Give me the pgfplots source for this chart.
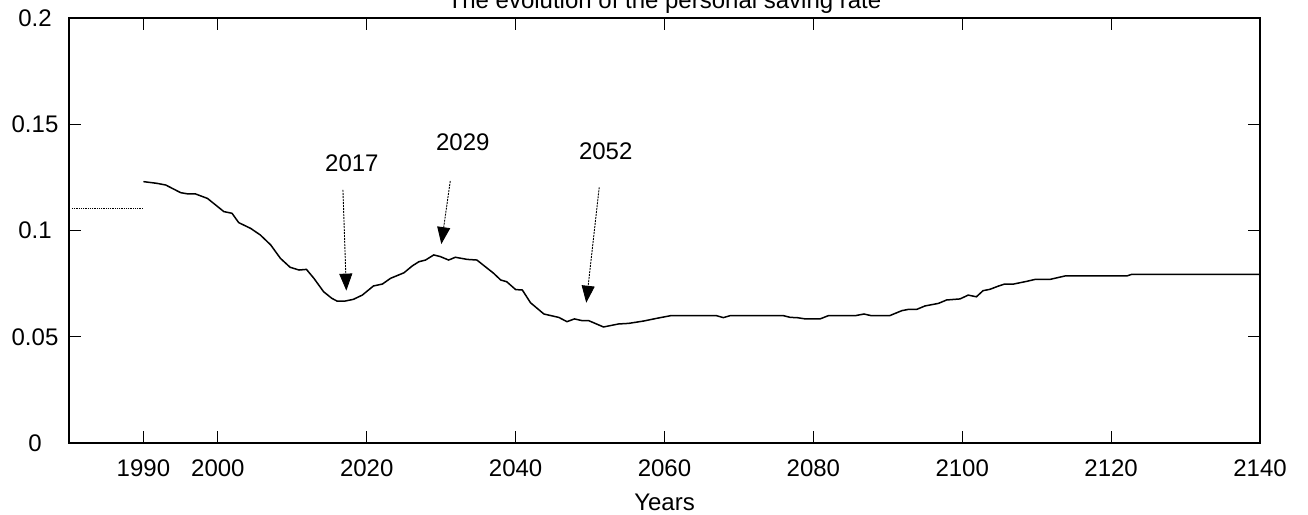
\documentclass[border=0pt]{standalone}
\usepackage{pgfplots}
\pgfplotsset{compat=1.18}
\usepackage{fontspec}
\setmainfont{Liberation Sans}
\usetikzlibrary{arrows.meta}

\newcommand{\lbl}{\fontsize{24}{28}\selectfont}

\begin{document}
\begin{tikzpicture}
\begin{axis}[
  at={(0pt,0pt)}, anchor=south west,
  scale only axis, width=1191pt, height=425pt,
  xmin=1980, xmax=2140, ymin=0, ymax=0.2,
  xtick={1990,2000,2020,2040,2060,2080,2100,2120,2140},
  xticklabels={1990,2000,2020,2040,2060,2080,2100,2120,2140},
  ytick={0,0.05,0.1,0.15,0.2},
  yticklabels={0,0.05,0.1,0.15,0.2},
  tick align=inside, major tick length=12pt,
  xtick pos=both, ytick pos=both,
  axis line style={line width=1.6pt},
  every tick/.style={black, line width=1.2pt},
  tick label style={font=\lbl},
  xticklabel style={anchor=base, yshift=-33pt},
  yticklabel style={anchor=center, xshift=-34pt},
  xlabel={Years},
  xlabel style={at={(axis description cs:0.5,0)}, anchor=base, yshift=-67pt, font=\lbl},
]
% rate before 1990
\addplot[black, line width=0.8pt, densely dotted] coordinates {(1980.4,0.1106) (1990,0.1106)};
% personal saving rate
\addplot[black, line width=1.5pt] coordinates {
(1990,0.1230) (1991.8,0.1222) (1993,0.1214) (1995,0.1178) (1996,0.1172)
(1997,0.1172) (1998.6,0.1151) (1999.7,0.1120) (2000.8,0.1089) (2001.9,0.1081)
(2002.8,0.1037) (2004.4,0.1010) (2005.7,0.0979) (2007.1,0.0932) (2008.4,0.0869)
(2009.7,0.0827) (2010.9,0.0814) (2011.9,0.0817) (2012.9,0.0775) (2014.2,0.0712)
(2015.3,0.0681) (2016,0.0668) (2017.1,0.0668) (2018.2,0.0676) (2019.4,0.0696)
(2020.9,0.0739) (2022.1,0.0748) (2023.2,0.0775) (2025,0.0801) (2026.1,0.0833)
(2027,0.0853) (2027.9,0.0861) (2029,0.0885) (2029.9,0.0877) (2031,0.0861)
(2031.9,0.0874) (2033.5,0.0864) (2034.8,0.0861) (2036.2,0.0822) (2037,0.0800)
(2038,0.0767) (2038.8,0.0759) (2040,0.0722) (2040.9,0.0720) (2042,0.0660)
(2043.8,0.0607) (2045.8,0.0591) (2046.9,0.0571) (2047.9,0.0584) (2048.9,0.0576)
(2049.8,0.0576) (2051.8,0.0546) (2053.8,0.0560) (2055.2,0.0563) (2057.2,0.0574)
(2059,0.0587) (2060.8,0.0599) (2067,0.0599) (2067.9,0.0590) (2068.8,0.0599)
(2076,0.0599) (2076.9,0.0591) (2077.8,0.0590) (2078.9,0.0584) (2080.9,0.0584)
(2082,0.0599) (2085.6,0.0599) (2086.8,0.0607) (2087.8,0.0599) (2090.3,0.0600)
(2091.9,0.0623) (2092.8,0.0629) (2093.9,0.0629) (2095,0.0645) (2096.8,0.0657)
(2097.9,0.0673) (2099.7,0.0678) (2100.8,0.0696) (2101.9,0.0688) (2102.8,0.0717)
(2103.7,0.0723) (2104.9,0.0739) (2105.7,0.0748) (2106.9,0.0748) (2108.7,0.0761)
(2109.8,0.0770) (2111.8,0.0770) (2113.8,0.0786) (2122.1,0.0786) (2122.8,0.0794)
(2140,0.0794)
};
% annotations
\draw[black, line width=0.9pt, dash pattern=on 2pt off 1pt, -{Triangle[length=17pt,width=13pt]}]
  (axis cs:2016.8,0.1191) -- (axis cs:2017.26,0.0717);
\draw[black, line width=0.9pt, dash pattern=on 2pt off 1pt, -{Triangle[length=17pt,width=13pt]}]
  (axis cs:2031.22,0.1233) -- (axis cs:2030.02,0.0936);
\draw[black, line width=0.9pt, dash pattern=on 2pt off 1pt, -{Triangle[length=17pt,width=13pt]}]
  (axis cs:2051.23,0.1203) -- (axis cs:2049.49,0.0660);
\node[anchor=base, font=\lbl] at (axis cs:2018.0,0.1277) {2017};
\node[anchor=base, font=\lbl] at (axis cs:2032.9,0.1376) {2029};
\node[anchor=base, font=\lbl] at (axis cs:2052.1,0.1335) {2052};
\end{axis}
% chart title, partly above the page edge
\node[anchor=base, font=\lbl, inner sep=0pt] at (595.5pt,434pt) {The evolution of the personal saving rate};
\pgfresetboundingbox
\path[use as bounding box] (-69pt,-71pt) rectangle (1239pt,443pt);
\end{tikzpicture}
\end{document}
